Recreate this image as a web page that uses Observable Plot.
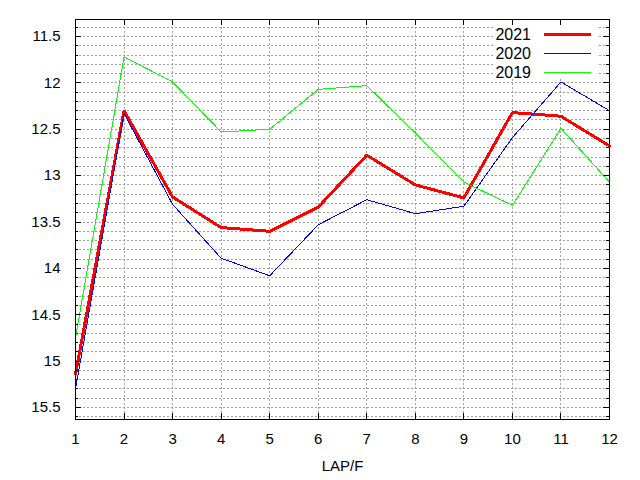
<!DOCTYPE html>
<html>
<head>
<meta charset="utf-8">
<script src="https://cdn.jsdelivr.net/npm/d3@7"></script>
<script src="https://cdn.jsdelivr.net/npm/@observablehq/plot@0.6"></script>
<style>
  body { margin: 0; background: #fff; }
  #wrap { position: relative; width: 640px; height: 480px; font-family: "Liberation Sans", Arial, sans-serif; }
  #legend { position: absolute; left: 495px; top: 25px; width: 103px; height: 53px; background: #fff; }
  .row { position: absolute; left: 0; width: 103px; height: 19px; }
  .row span { position: absolute; right: 67px; top: 0; font-size: 16px; line-height: 19px; color: #000; }
  .row i { position: absolute; left: 49px; width: 47px; }
</style>
</head>
<body>
<div id="wrap"></div>
<script>
const laps = [1, 2, 3, 4, 5, 6, 7, 8, 9, 10, 11, 12];
const y2021 = [15.14, 12.30, 13.23, 13.56, 13.60, 13.34, 12.78, 13.10, 13.24, 12.32, 12.36, 12.68];
const y2020 = [15.30, 12.33, 13.31, 13.89, 14.08, 13.53, 13.26, 13.41, 13.33, 12.59, 11.99, 12.30];
const y2019 = [14.75, 11.72, 11.99, 12.53, 12.50, 12.07, 12.03, 12.54, 13.07, 13.32, 12.49, 13.07];
const seriesNames = ["2021", "2020", "2019"];
const seriesColors = ["#ff0000", "#0000ff", "#00ff00"];
const seriesWidths = [3, 1, 1];
const yMajor = [11.5, 12, 12.5, 13, 13.5, 14, 14.5, 15, 15.5];
const yMinor = d3.range(114, 157).map(v => v / 10);
const xTicks = laps;

const W = 640, H = 480, mL = 75, mR = 31, mT = 19, mB = 61;
const fw = W - mL - mR, fh = H - mT - mB;
const seriesData = [y2021, y2020, y2019];

const lineMarks = seriesData.map((ys, k) =>
  Plot.line(laps, {x: d => d, y: (d, i) => ys[i], stroke: seriesColors[k], strokeWidth: seriesWidths[k], strokeLinejoin: "miter", shapeRendering: "crispEdges"})
);

const chart = Plot.plot({
  width: W, height: H,
  marginLeft: mL, marginRight: mR, marginTop: mT, marginBottom: mB,
  style: {fontFamily: "Liberation Sans, Arial, sans-serif", fontSize: "15px", background: "#fff", color: "#000"},
  x: {domain: [1, 12]},
  y: {domain: [11.317, 15.629], reverse: true},
  marks: [
    Plot.ruleY(yMinor, {stroke: "#a0a0a0", strokeDasharray: "2,2", strokeWidth: 1, shapeRendering: "crispEdges"}),
    Plot.ruleX(xTicks.slice(1, -1), {stroke: "#a0a0a0", strokeDasharray: "2,2", strokeWidth: 1, shapeRendering: "crispEdges"}),
    ...lineMarks,
    Plot.tickY(yMajor, {y: d => d, insetRight: fw - 6, stroke: "#000", shapeRendering: "crispEdges"}),
    Plot.tickY(yMajor, {y: d => d, insetLeft: fw - 6, stroke: "#000", shapeRendering: "crispEdges"}),
    Plot.tickY(yMinor, {y: d => d, insetRight: fw - 3, stroke: "#000", shapeRendering: "crispEdges"}),
    Plot.tickY(yMinor, {y: d => d, insetLeft: fw - 3, stroke: "#000", shapeRendering: "crispEdges"}),
    Plot.tickX(xTicks, {x: d => d, insetTop: fh - 6, stroke: "#000", shapeRendering: "crispEdges"}),
    Plot.tickX(xTicks, {x: d => d, insetBottom: fh - 6, stroke: "#000", shapeRendering: "crispEdges"}),
    Plot.axisY({ticks: yMajor, tickSize: 0, tickPadding: 15, fontSize: 15, label: null, tickFormat: d => String(d)}),
    Plot.axisX({ticks: xTicks, tickSize: 0, tickPadding: 14, fontSize: 15, label: null, tickFormat: d => String(d)}),
    Plot.text(["LAP/F"], {frameAnchor: "bottom", dy: 41, lineAnchor: "top", fontSize: 15, text: d => d, fill: "#000"}),
    Plot.frame({stroke: "#000", strokeWidth: 1, shapeRendering: "crispEdges"})
  ]
});

const wrap = document.getElementById("wrap");
wrap.appendChild(chart);

const legend = document.createElement("div");
legend.id = "legend";
seriesNames.forEach((name, k) => {
  const row = document.createElement("div");
  row.className = "row";
  row.style.top = (k * 19.2) + "px";
  const s = document.createElement("span");
  s.textContent = name;
  const l = document.createElement("i");
  l.style.top = (8.5 - seriesWidths[k] / 2 + 0.5) + "px";
  l.style.height = seriesWidths[k] + "px";
  l.style.background = seriesColors[k];
  row.appendChild(s);
  row.appendChild(l);
  legend.appendChild(row);
});
wrap.appendChild(legend);
</script>
</body>
</html>
